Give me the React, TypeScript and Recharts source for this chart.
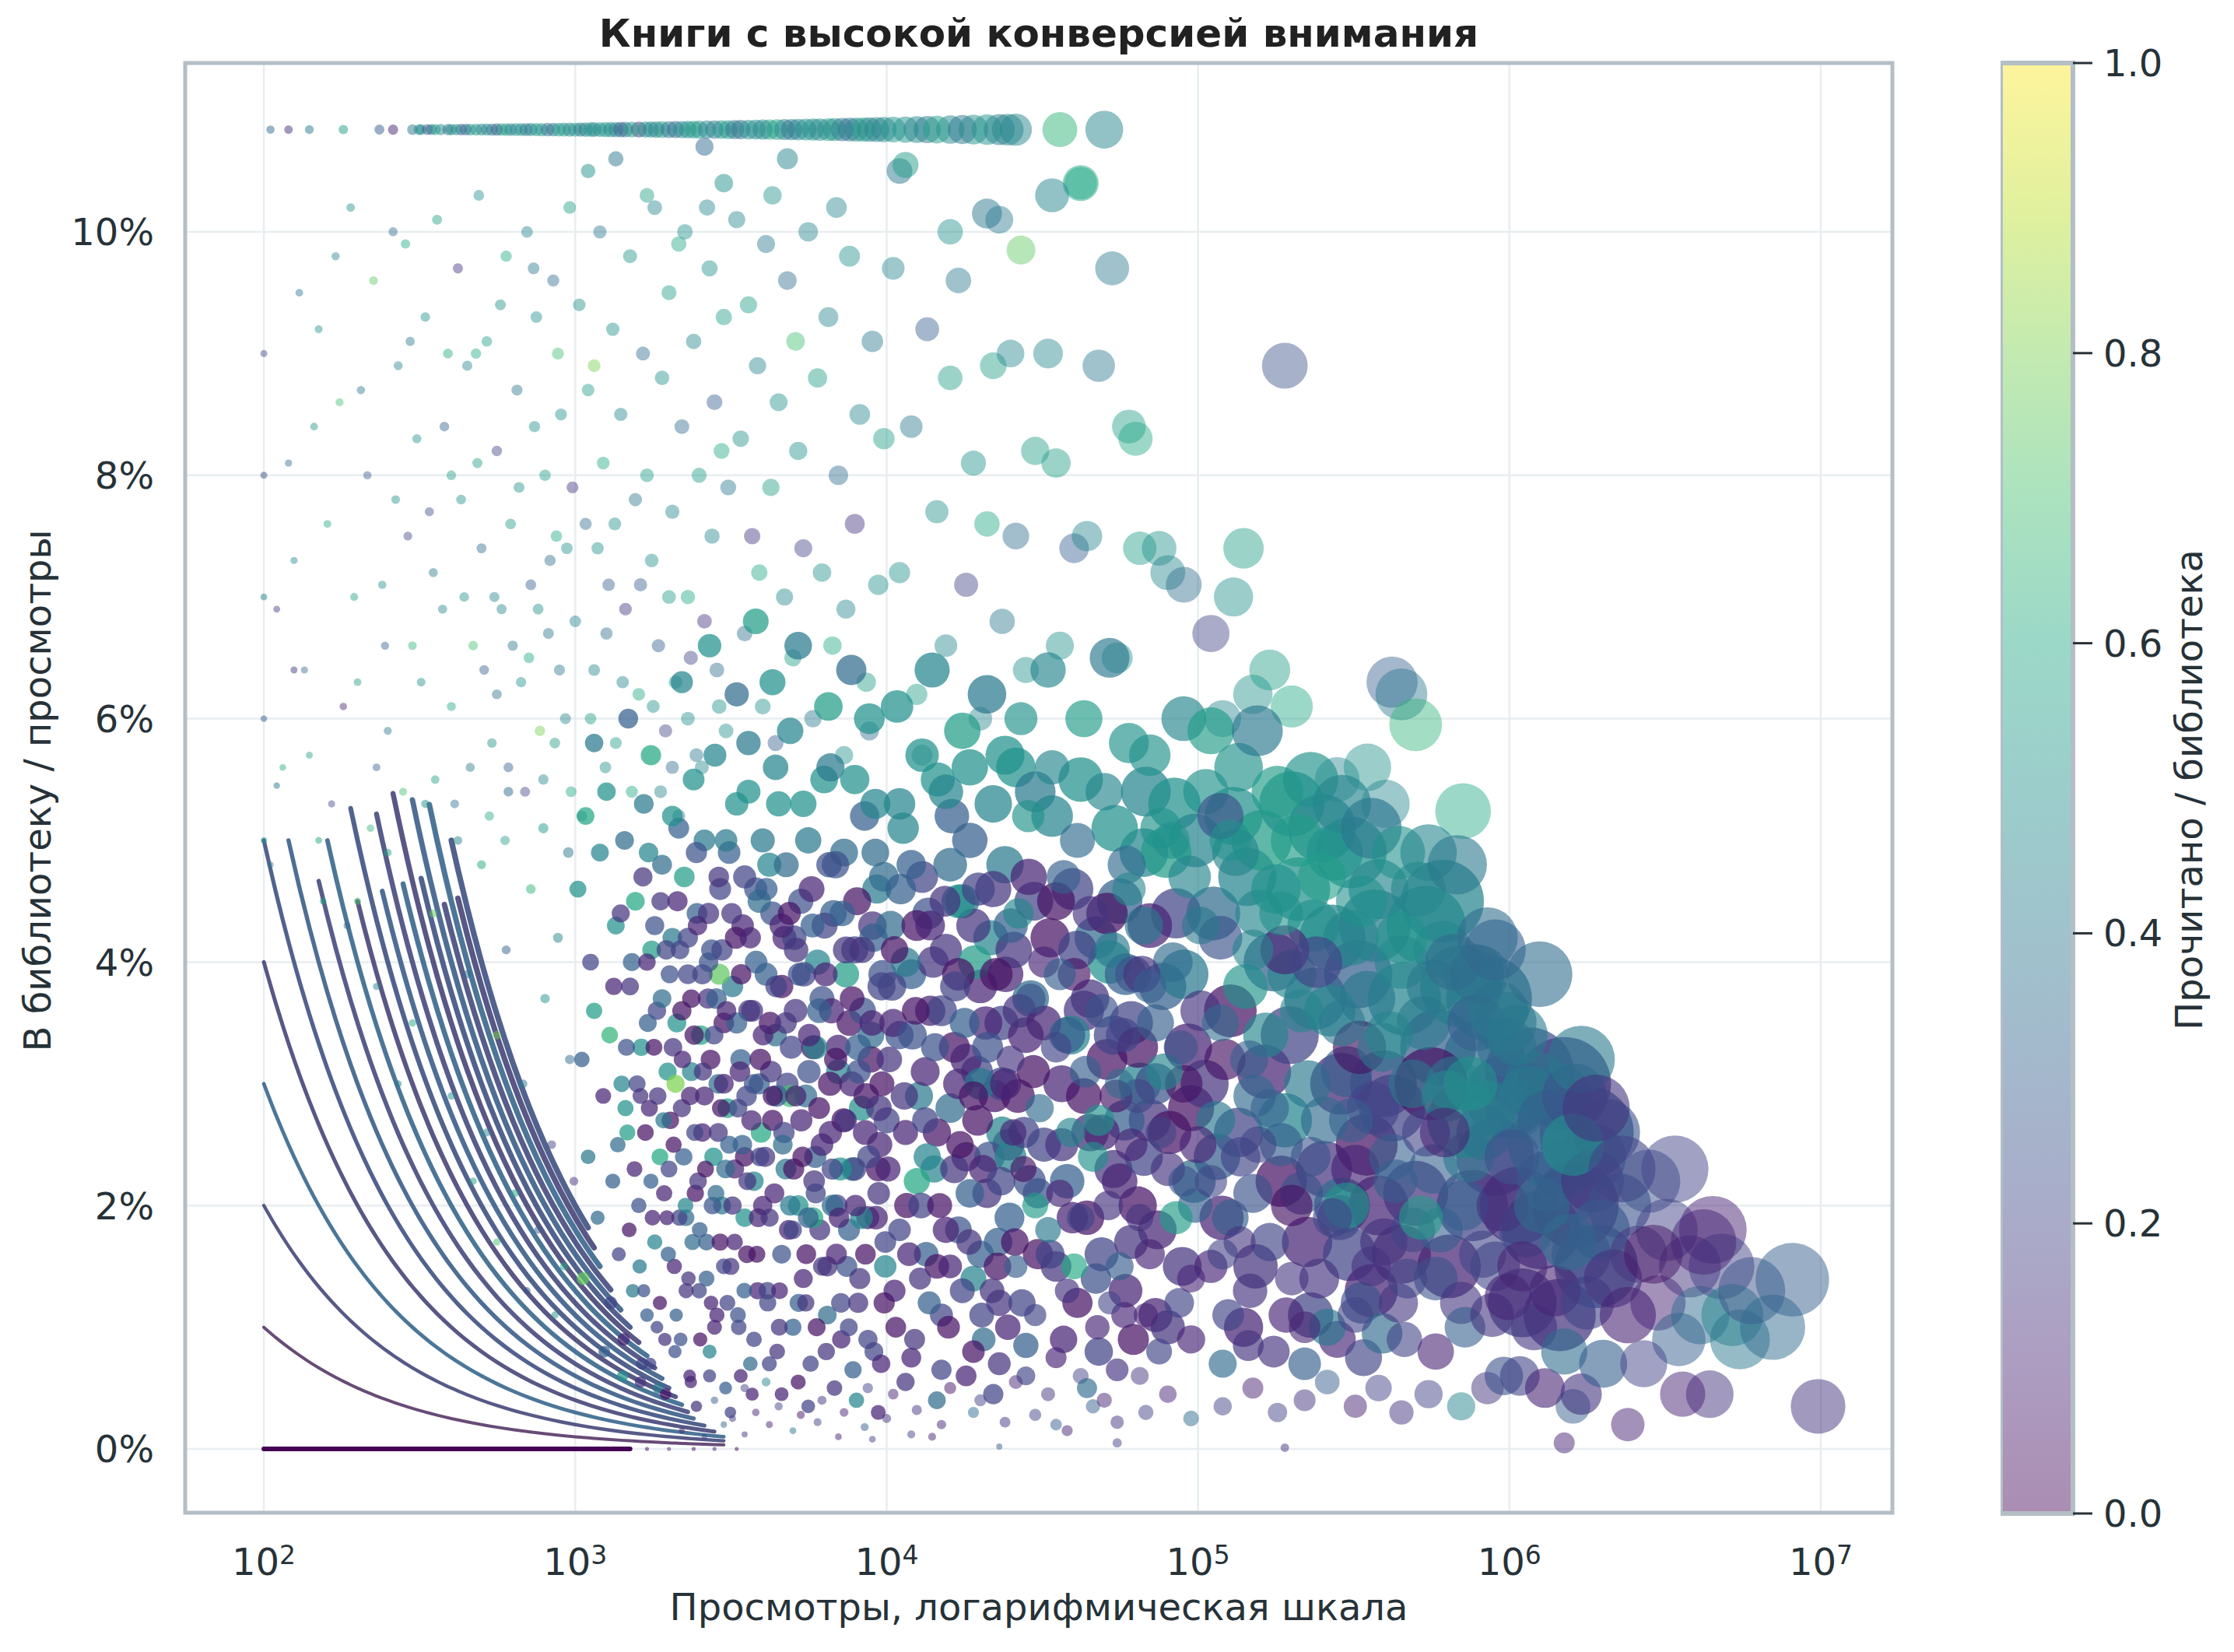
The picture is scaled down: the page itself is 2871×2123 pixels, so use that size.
import React from "react"
import { ScatterChart, Scatter, XAxis, YAxis, CartesianGrid, BarChart, Bar } from "recharts"

// [views, in library / views (%), read / library]
type Pt = [number, number, number]

const X_DOMAIN: [number, number] = [55.9, 1.698e7]
const Y_DOMAIN: [number, number] = [-0.524, 11.387]
const X_TICKS = [1e2, 1e3, 1e4, 1e5, 1e6, 1e7]
const Y_TICKS = [0, 2, 4, 6, 8, 10]
const CB_TICKS = [0, 0.2, 0.4, 0.6, 0.8, 1]

// books with a tiny library count: [library count, first views, last views]
const CURVE_SPANS: [number, number, number][] = [
  [0, 100, 1500], [1, 100, 3000], [2, 100, 3000], [3, 100, 3000], [4, 100, 2800],
  [5, 100, 2600], [6, 120, 2400], [7, 150, 2300], [8, 160, 2200], [9, 200, 2100],
  [10, 190, 2000], [11, 240, 1900], [12, 230, 1800], [13, 280, 1700], [14, 260, 1600],
  [15, 320, 1500], [16, 300, 1400], [17, 380, 1300], [18, 340, 1200], [19, 420, 1150],
  [20, 400, 1100],
]
const CURVE_VIEWS = [
  100, 110, 120, 130, 140, 150, 160, 170, 180, 190, 200, 210, 220, 230, 240, 250, 260, 270, 280,
  290, 300, 310, 320, 330, 340, 360, 380, 400, 420, 450, 500, 560, 630, 710, 800, 900, 1000, 1100,
  1150, 1200, 1300, 1400, 1500, 1600, 1700, 1800, 1900, 2000, 2100, 2200, 2300, 2400, 2600, 2800, 3000,
]

const TOP_ROW: Pt[] = [
  [105, 10.84, .35], [120, 10.84, .15], [140, 10.84, .4], [180, 10.84, .55], [235, 10.84, .3],
  [260, 10.84, .1], [300, 10.84, .4], [320, 10.84, .5], [345, 10.84, .35], [370, 10.84, .45],
  [400, 10.84, .5], [430, 10.84, .3], [460, 10.84, .55], [500, 10.84, .45], [540, 10.84, .4],
  [580, 10.84, .6], [620, 10.84, .35], [670, 10.84, .5], [720, 10.84, .45], [780, 10.84, .55],
  [850, 10.84, .4], [920, 10.84, .5], [1000, 10.84, .6], [1080, 10.84, .45], [1150, 10.84, .35],
  [1250, 10.84, .55], [1350, 10.84, .5], [1450, 10.84, .4], [1600, 10.84, .15], [1750, 10.84, .45],
  [1900, 10.84, .55], [2100, 10.84, .3], [2300, 10.84, .45], [2500, 10.84, .5], [2800, 10.84, .4],
  [3100, 10.84, .55], [3400, 10.84, .35], [3800, 10.84, .45], [4200, 10.84, .6], [4700, 10.84, .4],
  [5200, 10.84, .45], [5800, 10.84, .5], [6500, 10.84, .55], [7200, 10.84, .35], [8000, 10.84, .45],
  [8800, 10.84, .4], [9800, 10.84, .45], [1.15e4, 10.84, .5], [1.35e4, 10.84, .4], [1.6e4, 10.84, .45],
  [1.9e4, 10.84, .5], [2.3e4, 10.84, .4], [2.6e4, 10.84, .45], [3.6e4, 10.84, .65], [5e4, 10.84, .45],
  [315, 10.84, .45], [335, 10.84, .3], [355, 10.84, .55], [390, 10.84, .4], [415, 10.84, .5],
  [445, 10.84, .35], [480, 10.84, .5], [520, 10.84, .45], [560, 10.84, .3], [600, 10.84, .55],
  [645, 10.84, .5], [695, 10.84, .4], [750, 10.84, .5], [815, 10.84, .35], [885, 10.84, .55],
  [960, 10.84, .45], [1040, 10.84, .4], [1120, 10.84, .55], [1200, 10.84, .5], [1300, 10.84, .45],
  [1400, 10.84, .3], [1520, 10.84, .55], [1680, 10.84, .5], [1820, 10.84, .45], [2000, 10.84, .4],
  [2200, 10.84, .5], [2400, 10.84, .55], [2650, 10.84, .45], [2950, 10.84, .5], [3250, 10.84, .4],
  [3600, 10.84, .5], [4000, 10.84, .45], [4450, 10.84, .55], [4950, 10.84, .4], [5500, 10.84, .5],
  [6100, 10.84, .45], [6800, 10.84, .5], [7600, 10.84, .4], [8400, 10.84, .55], [9300, 10.84, .45],
  [1.05e4, 10.84, .5], [1.25e4, 10.84, .45], [1.45e4, 10.84, .55], [1.75e4, 10.84, .4],
  [2.1e4, 10.84, .5], [2.45e4, 10.84, .45],
  [1100, 10.5, .5], [1350, 10.6, .4], [2600, 10.7, .35], [3000, 10.4, .5], [4800, 10.6, .45],
  [1.1e4, 10.5, .4], [1.15e4, 10.55, .55], [4.2e4, 10.4, .6], [3.4e4, 10.3, .45], [2.1e4, 10.15, .4],
]

const UPPER: Pt[] = [
  [100, 9.0, .2], [120, 8.1, .35], [110, 6.9, .15], [130, 9.5, .4], [150, 9.2, .5], [160, 7.6, .6],
  [175, 8.6, .7], [190, 10.2, .5], [200, 6.3, .55], [215, 8.0, .3], [225, 9.6, .75], [240, 7.1, .5],
  [250, 5.9, .4], [270, 8.9, .45], [285, 9.9, .6], [290, 7.5, .2], [300, 6.6, .65], [310, 8.3, .5],
  [140, 5.7, .55], [180, 6.1, .1], [230, 5.6, .3], [125, 7.3, .45], [260, 10.0, .35],
  [330, 9.3, .5], [350, 7.2, .4], [360, 10.1, .55], [380, 8.4, .3], [400, 6.1, .6], [420, 9.7, .15],
  [430, 7.8, .5], [450, 8.9, .45], [470, 6.6, .7], [490, 10.3, .5], [500, 7.4, .35], [520, 9.1, .55],
  [540, 5.8, .5], [560, 8.2, .2], [580, 6.9, .45], [600, 9.8, .6], [620, 7.6, .55], [650, 8.7, .4],
  [670, 6.3, .5], [700, 10.0, .45], [720, 7.1, .3], [750, 9.3, .5], [770, 5.9, .8], [800, 8.0, .55],
  [820, 6.7, .4], [850, 9.6, .35], [870, 7.5, .6], [900, 8.5, .5], [930, 6.0, .45], [960, 10.2, .55],
  [980, 7.9, .15], [400, 8.0, .55], [480, 9.0, .6], [560, 6.2, .35], [740, 8.4, .5], [610, 5.6, .3],
  [880, 9.0, .7],
  [105, 4.8, .4], [115, 5.6, .6], [135, 6.4, .35], [145, 8.4, .5], [165, 5.3, .2], [170, 9.8, .45],
  [195, 7.0, .55], [205, 8.7, .4], [220, 5.1, .65], [245, 6.6, .3], [265, 7.8, .5], [280, 5.4, .7],
  [295, 9.1, .4], [320, 6.3, .5], [340, 7.7, .25], [355, 5.5, .55], [375, 6.9, .45], [390, 9.0, .6],
  [410, 5.3, .35], [440, 7.0, .5], [460, 5.6, .4], [485, 8.1, .55], [510, 6.4, .3], [530, 5.2, .6],
  [550, 7.0, .45], [575, 9.4, .5], [595, 5.0, .55], [630, 6.6, .4], [660, 7.9, .5], [690, 5.4, .2],
  [710, 6.5, .6], [735, 9.7, .4], [760, 6.9, .5], [790, 5.5, .45], [830, 7.3, .35], [860, 5.8, .55],
  [890, 6.4, .4], [940, 7.4, .5], [970, 5.4, .6], [1000, 6.8, .45], [1050, 5.2, .4], [1120, 6.0, .55],
  [1180, 7.4, .5], [1260, 6.7, .35], [1340, 7.6, .5], [1420, 6.3, .45], [1520, 5.4, .6], [1620, 7.1, .3],
  [1780, 6.1, .5], [1880, 5.4, .45], [2000, 7.0, .55], [2150, 5.2, .4], [2300, 6.0, .5], [2550, 5.6, .45],
  [2850, 6.4, .35], [3050, 5.9, .5],
  [1030, 9.4, .5], [1080, 7.6, .35], [1100, 8.7, .55], [1150, 6.4, .45], [1200, 10.0, .4],
  [1230, 8.1, .6], [1280, 7.1, .3], [1320, 9.2, .5], [1350, 5.8, .55], [1400, 8.5, .45],
  [1450, 6.9, .15], [1500, 9.8, .5], [1560, 7.8, .4], [1600, 6.2, .6], [1650, 9.0, .35],
  [1700, 8.0, .55], [1760, 7.3, .5], [1800, 10.2, .45], [1850, 6.6, .3], [1900, 8.8, .5],
  [1950, 5.9, .2], [2000, 9.5, .55], [2050, 7.7, .45], [2100, 6.3, .5], [2200, 8.4, .35],
  [2250, 10.0, .5], [2300, 7.0, .6], [2400, 9.1, .45], [2450, 5.7, .4], [2500, 8.0, .55],
  [2600, 6.8, .15], [2700, 9.7, .5], [2750, 7.5, .45], [2800, 8.6, .3], [2900, 6.1, .5],
  [3000, 9.3, .55], [3100, 7.9, .4], [1250, 5.6, .5], [1700, 10.3, .55], [2150, 9.9, .6],
  [2350, 6.5, .2], [2650, 10.2, .45], [1150, 8.9, .8], [2050, 5.6, .35], [2950, 8.2, .6],
  [3300, 10.1, .45], [3400, 8.3, .5], [3500, 6.7, .35], [3600, 9.4, .55], [3700, 7.5, .15],
  [3850, 8.9, .45], [4000, 6.1, .5], [4100, 9.9, .4], [4250, 7.9, .55], [4400, 5.8, .3],
  [4500, 8.6, .5], [4700, 7.0, .45], [4800, 9.6, .35], [5000, 6.5, .55], [5200, 8.2, .5],
  [5400, 7.4, .2], [5600, 10.0, .45], [5800, 6.0, .4], [6000, 8.8, .55], [6200, 7.2, .5],
  [6500, 9.3, .45], [6700, 6.6, .6], [7000, 8.0, .35], [7300, 5.7, .5], [7600, 9.8, .5],
  [7900, 7.6, .15], [8200, 8.5, .45], [8600, 6.3, .55], [9000, 9.1, .4], [9400, 7.1, .5],
  [9800, 8.3, .55], [3900, 7.2, .6], [5100, 9.1, .7], [6900, 10.2, .45], [8800, 5.9, .35],
  [4300, 10.3, .5], [7400, 6.9, .45],
  [1.05e4, 9.7, .45], [1.1e4, 7.2, .5], [1.2e4, 8.4, .4], [1.25e4, 6.2, .55], [1.35e4, 9.2, .3],
  [1.45e4, 7.7, .5], [1.55e4, 6.6, .45], [1.6e4, 8.8, .55], [1.7e4, 9.6, .4], [1.8e4, 7.1, .2],
  [1.9e4, 8.1, .5], [2e4, 6.0, .45], [2.1e4, 7.6, .6], [2.2e4, 8.9, .55], [2.35e4, 6.8, .4],
  [2.5e4, 9.0, .45], [2.6e4, 7.5, .35], [2.8e4, 6.4, .5], [3e4, 8.2, .55], [1.3e4, 5.7, .45],
  [2.3e4, 10.1, .4], [1.6e4, 10.0, .5], [2.7e4, 9.85, .75],
  [3.3e4, 9.0, .45], [3.5e4, 8.1, .55], [3.6e4, 6.6, .5], [4e4, 7.4, .3], [4.2e4, 10.4, .6],
  [4.4e4, 7.5, .45], [4.8e4, 8.9, .4], [5.3e4, 9.7, .4], [5.5e4, 6.5, .5], [6e4, 8.4, .55],
  [6.3e4, 8.3, .6], [6.5e4, 7.4, .55], [7.5e4, 7.4, .5], [8e4, 7.2, .45], [9e4, 7.1, .35],
  [1.1e5, 6.7, .2], [1.4e5, 7.4, .55], [1.3e5, 7.0, .5], [1.9e5, 8.9, .25], [1.5e5, 6.2, .5],
  [1.2e5, 6.0, .45], [2e5, 6.1, .6], [1.7e5, 6.4, .55], [2.8e5, 5.5, .45], [4.2e5, 6.3, .3],
  [4.5e5, 6.2, .4], [5e5, 5.95, .65], [3.5e5, 5.6, .5], [4e5, 5.3, .45], [7.1e5, 5.24, .6],
]

const LEFT_DOTS: Pt[] = [
  [300, 3.5, .6], [350, 4.4, .75], [400, 2.9, .5], [450, 3.9, .35], [500, 4.8, .6], [520, 2.6, .45],
  [560, 3.4, .8], [600, 4.1, .3], [640, 2.1, .55], [680, 3.0, .4], [720, 4.6, .65], [760, 1.8, .3],
  [800, 3.7, .5], [840, 2.5, .2], [880, 4.2, .45], [920, 1.5, .6], [960, 3.2, .35], [250, 4.9, .55],
  [270, 3.0, .4], [200, 4.5, .7], [330, 5.3, .5], [420, 5.0, .45], [610, 5.4, .35], [790, 5.1, .55],
  [950, 4.9, .4], [700, 1.3, .25], [860, 1.1, .5], [990, 2.2, .15], [560, 1.7, .7], [470, 2.2, .55],
  [150, 5.0, .6], [230, 3.8, .45], [100, 6.0, .3], [100, 7.0, .45], [100, 8.0, .25], [100, 5.0, .5],
  [110, 5.45, .4], [125, 6.4, .2], [155, 4.5, .55], [185, 4.3, .35],
]

const LOW_BAND: Pt[] = [
  [1700, 0, 0], [2000, 0, .1], [2400, 0, 0], [2800, 0, .05], [3300, 0, 0],
  [2200, 0.15, .1], [2600, 0.1, .2], [3000, 0.2, .35], [3500, 0.12, .15], [4200, 0.2, .1],
  [5000, 0.15, .4], [6000, 0.22, .2], [7000, 0.1, .1], [8500, 0.18, .3], [1e4, 0.25, .15],
  [1.2e4, 0.12, .2], [1.5e4, 0.2, .1], [1.9e4, 0.3, .35], [2.4e4, 0.22, .15], [3e4, 0.28, .2],
  [3.8e4, 0.15, .1], [4.6e4, 0.35, .3], [5.5e4, 0.22, .15], [6.8e4, 0.3, .2], [8e4, 0.45, .1],
  [9.5e4, 0.25, .35], [1.2e5, 0.35, .2], [1.5e5, 0.5, .1], [1.8e5, 0.3, .2], [2.2e5, 0.4, .15],
  [2.6e5, 0.55, .3], [3.2e5, 0.35, .1], [3.8e5, 0.5, .2], [4.5e5, 0.3, .15], [5.5e5, 0.45, .2],
  [7e5, 0.35, .45], [8.5e5, 0.5, .15], [1.5e6, 0.05, .1], [1.6e6, 0.35, .3], [2.4e6, 0.2, .1],
  [5.5e4, 0.05, .2], [2.3e4, 0.02, .3], [1.9e5, 0.01, .15],
  [3200, 0.25, .15], [3800, 0.3, .1], [4500, 0.35, .2], [5300, 0.28, .05], [6200, 0.4, .15],
  [7300, 0.3, .1], [8700, 0.5, .2], [1.05e4, 0.45, .1], [1.25e4, 0.32, .15], [1.6e4, 0.5, .05],
  [2e4, 0.4, .2], [2.6e4, 0.55, .1], [3.3e4, 0.45, .15], [4.2e4, 0.6, .2], [5e4, 0.4, .1],
  [6.5e4, 0.6, .15], [2800, 0.4, .3], [3500, 0.5, .2], [4100, 0.55, .45], [1.4e4, 0.1, .1],
  [9e3, 0.08, .2], [3.5e4, 0.2, .3],
]

const CORE_LEFT: Pt[] = [
  [1020, 4.6, .5], [1050, 3.2, .3], [1080, 5.2, .6], [1100, 2.4, .4], [1120, 4.0, .2], [1150, 3.6, .55],
  [1180, 1.9, .35], [1200, 4.9, .45], [1230, 2.9, .1], [1260, 5.4, .5], [1290, 3.4, .65], [1320, 2.2, .3],
  [1350, 4.3, .5], [1380, 1.6, .2], [1410, 3.0, .45], [1440, 5.0, .35], [1470, 2.6, .55], [1500, 3.8, .15],
  [1530, 1.3, .4], [1560, 4.5, .6], [1600, 2.0, .25], [1630, 3.3, .5], [1660, 5.3, .4], [1700, 1.1, .3],
  [1730, 2.8, .1], [1760, 4.1, .55], [1800, 1.7, .45], [1830, 3.6, .2], [1870, 2.4, .6], [1900, 4.8, .35],
  [1940, 0.9, .15], [1980, 3.1, .5], [1060, 1.4, .75], [1240, 0.8, .3], [1420, 0.6, .5], [1640, 0.7, .2],
  [1850, 0.5, .4], [1150, 5.8, .4], [1480, 6.0, .3], [1750, 5.7, .6],
  [2000, 2.3, .2], [2050, 4.2, .4], [2080, 1.5, .1], [2120, 3.5, .5], [2150, 5.1, .3], [2180, 0.9, .25],
  [2200, 2.8, .15], [2240, 4.7, .55], [2270, 1.9, .35], [2300, 3.9, .2], [2330, 0.6, .1], [2360, 3.1, .45],
  [2400, 5.5, .5], [2430, 2.1, .05], [2460, 4.4, .3], [2500, 1.3, .2], [2530, 3.4, .6], [2560, 2.6, .1],
  [2600, 5.0, .4], [2640, 1.7, .3], [2670, 3.7, .15], [2700, 0.8, .45], [2740, 4.1, .25], [2780, 2.4, .5],
  [2810, 5.7, .45], [2850, 1.1, .1], [2880, 3.0, .35], [2920, 4.6, .2], [2960, 2.0, .4], [3000, 3.5, .05],
  [3040, 0.5, .3], [3080, 2.8, .55], [3120, 4.9, .3], [3160, 1.5, .15], [3200, 3.8, .4], [3250, 2.3, .1],
  [3300, 5.3, .5], [3350, 1.0, .2], [3400, 3.2, .3], [3450, 4.3, .1], [3500, 1.9, .5], [3550, 2.9, .2],
  [3600, 5.8, .4], [3650, 0.7, .35], [3700, 3.6, .15], [3750, 2.2, .45], [3800, 4.6, .25], [3850, 1.3, .1],
  [3900, 3.0, .3], [3950, 2.6, .6], [2200, 6.3, .45], [2700, 6.6, .5], [3300, 6.2, .35], [3800, 6.8, .55],
  [2450, 0.35, .15], [3150, 0.3, .2], [3700, 0.45, .1], [2100, 3.0, .8], [2900, 3.9, .75], [3500, 2.4, .05],
  [4000, 2.0, .1], [4100, 3.9, .3], [4150, 1.2, .2], [4200, 4.8, .45], [4300, 2.7, .05], [4400, 3.4, .35],
  [4450, 0.8, .15], [4500, 5.3, .5], [4600, 1.6, .25], [4700, 4.2, .1], [4750, 2.3, .4], [4800, 3.0, .2],
  [4900, 5.9, .45], [5000, 1.0, .3], [5100, 3.6, .15], [5200, 2.0, .5], [5300, 4.5, .25], [5400, 1.4, .1],
  [5500, 2.9, .35], [5600, 5.0, .4], [5700, 0.7, .2], [5800, 3.3, .05], [5900, 2.4, .3], [6000, 4.0, .45],
  [6100, 1.8, .15], [6200, 3.7, .25], [6300, 5.5, .5], [6450, 1.1, .35], [6600, 2.6, .1], [6750, 4.4, .3],
  [6900, 2.0, .2], [7000, 3.1, .45], [7150, 0.9, .1], [7300, 4.9, .35], [7450, 1.5, .25], [7600, 3.5, .05],
  [7750, 2.3, .4], [7900, 4.1, .2], [8100, 1.2, .15], [8300, 2.8, .5], [8500, 5.2, .3], [8700, 1.9, .1],
  [8900, 3.4, .35], [9100, 0.8, .2], [9300, 4.6, .4], [9500, 2.5, .1], [9700, 3.9, .25], [9900, 1.5, .45],
  [4300, 6.3, .5], [5200, 6.6, .4], [6500, 6.1, .55], [7700, 6.4, .35], [8800, 6.0, .5], [4600, 0.45, .1],
  [5600, 0.35, .2], [6800, 0.5, .15], [8000, 0.4, .45], [9400, 0.3, .1], [4900, 2.9, .7], [5800, 1.9, .6],
  [7400, 3.9, .55], [8600, 2.9, .05], [4250, 3.1, .15], [5050, 4.2, .2], [6650, 3.6, .1], [9000, 4.3, .15],
  [1.0e4, 2.7, .2], [1.03e4, 4.3, .35], [1.06e4, 1.3, .1], [1.1e4, 3.4, .25], [1.13e4, 5.1, .45],
  [1.16e4, 2.0, .05], [1.2e4, 3.9, .3], [1.23e4, 0.9, .15], [1.27e4, 2.9, .4], [1.3e4, 4.7, .2],
  [1.34e4, 1.6, .3], [1.38e4, 3.6, .1], [1.42e4, 2.3, .45], [1.46e4, 5.5, .5], [1.5e4, 1.1, .2],
  [1.55e4, 4.1, .15], [1.6e4, 2.8, .35], [1.65e4, 3.3, .05], [1.7e4, 1.8, .25], [1.75e4, 4.5, .4],
  [1.8e4, 2.4, .1], [1.85e4, 5.0, .3], [1.9e4, 1.4, .45], [1.95e4, 3.1, .2], [2e4, 3.8, .1],
  [2.05e4, 0.9, .35], [2.1e4, 2.1, .15], [2.16e4, 4.2, .45], [2.22e4, 2.9, .05], [2.28e4, 1.7, .3],
  [2.34e4, 3.5, .2], [2.4e4, 4.8, .4], [2.46e4, 2.5, .1], [1.08e4, 6.1, .5], [1.4e4, 6.4, .45],
  [1.75e4, 5.9, .55], [2.1e4, 6.2, .4], [2.4e4, 5.7, .5], [1.15e4, 0.55, .15], [1.45e4, 0.4, .35],
  [1.8e4, 0.6, .1], [2.2e4, 0.45, .2], [1.25e4, 2.2, .6], [1.58e4, 1.0, .05], [1.92e4, 4.0, .55],
  [2.3e4, 1.2, .15], [1.05e4, 3.5, .1], [1.36e4, 4.4, .25], [1.7e4, 3.0, .1], [2.0e4, 1.6, .3],
  [2.35e4, 2.6, .45], [1.62e4, 5.2, .3],
]

const CORE_FILL: Pt[] = [
  [1300, 1.2, .2], [1330, 3.8, .1], [1370, 2.5, .35], [1400, 4.4, .15], [1430, 0.9, .1], [1460, 3.3, .25],
  [1490, 1.8, .05], [1520, 4.0, .3], [1550, 2.3, .1], [1580, 3.0, .2], [1610, 1.5, .4], [1650, 4.7, .15],
  [1680, 2.6, .05], [1710, 3.5, .3], [1740, 0.7, .2], [1770, 1.9, .1], [1800, 4.3, .25], [1840, 2.9, .15],
  [1870, 1.2, .05], [1900, 3.7, .35], [1930, 2.1, .1], [1960, 4.1, .2], [1990, 1.6, .3], [2020, 2.7, .05],
  [2060, 3.3, .15], [2090, 0.8, .25], [2130, 4.5, .1], [2160, 1.9, .2], [2200, 3.6, .05], [2230, 2.4, .3],
  [2270, 1.3, .15], [2300, 4.2, .2], [2340, 2.9, .1], [2380, 1.7, .35], [2410, 3.4, .05], [2450, 4.9, .25],
  [2480, 2.2, .15], [2520, 0.9, .05], [2560, 3.9, .2], [2600, 2.9, .1], [2640, 1.4, .3], [2680, 4.4, .15],
  [2720, 3.2, .05], [2760, 2.0, .25], [2800, 1.0, .1], [2840, 3.7, .3], [2880, 2.6, .15], [2920, 1.7, .05],
  [2960, 4.1, .2], [3000, 3.0, .1], [3040, 2.3, .35], [3080, 1.2, .2], [1450, 2.8, .5], [1720, 4.9, .45],
  [2050, 5.2, .5], [2350, 0.55, .1], [2700, 0.6, .2], [3050, 5.0, .4], [1620, 0.55, .15], [1950, 0.45, .05],
  [3200, 2.0, .15], [3280, 4.2, .05], [3330, 1.1, .25], [3380, 3.1, .1], [3440, 2.5, .3], [3500, 4.7, .2],
  [3560, 1.6, .05], [3620, 3.6, .15], [3680, 2.7, .1], [3750, 0.9, .2], [3810, 4.0, .3], [3870, 1.9, .1],
  [3930, 3.2, .05], [4000, 5.0, .4], [4070, 2.4, .15], [4140, 1.3, .2], [4220, 3.5, .05], [4290, 4.4, .25],
  [4360, 2.1, .1], [4440, 2.9, .3], [4520, 1.0, .15], [4600, 3.8, .05], [4680, 2.6, .2], [4760, 4.8, .35],
  [4850, 1.8, .1], [4940, 3.3, .2], [5030, 2.3, .05], [5120, 4.1, .15], [5220, 1.2, .3], [5320, 2.7, .1],
  [5420, 3.9, .2], [5520, 1.6, .05], [5630, 3.1, .25], [5740, 4.6, .1], [5850, 2.2, .15], [5960, 1.0, .05],
  [6080, 3.6, .3], [6200, 2.5, .1], [6320, 4.3, .2], [6450, 1.5, .15], [6580, 3.0, .05], [6710, 2.0, .35],
  [6850, 4.8, .25], [6990, 3.3, .1], [7130, 1.2, .2], [7270, 2.7, .05], [7420, 4.1, .15], [7570, 1.8, .3],
  [7720, 3.0, .1], [7880, 2.3, .2], [8040, 4.5, .05], [8200, 1.4, .15], [8370, 3.6, .25], [8540, 2.6, .1],
  [8710, 0.9, .2], [8890, 3.2, .05], [9070, 4.2, .3], [9250, 1.9, .1], [9440, 2.8, .15], [9630, 3.8, .2],
  [9820, 1.2, .05], [3600, 5.4, .5], [4400, 5.6, .45], [5400, 5.3, .5], [6600, 5.6, .4], [7900, 5.5, .5],
  [9200, 5.3, .45], [3400, 0.6, .1], [4200, 0.7, .2], [5200, 0.55, .05], [6400, 0.8, .15], [7800, 0.65, .3],
  [9600, 0.7, .1], [3900, 4.5, .35], [4900, 2.0, .4], [5900, 3.3, .45], [7100, 2.3, .5], [8300, 1.9, .45],
  [9800, 4.7, .35], [3300, 3.5, .3], [4600, 4.3, .1], [5600, 1.9, .3], [6900, 1.6, .1], [8100, 3.3, .3],
  [9400, 2.3, .05],
  [1.01e4, 2.3, .1], [1.04e4, 3.8, .2], [1.07e4, 1.0, .05], [1.11e4, 4.6, .3], [1.14e4, 2.9, .15],
  [1.18e4, 1.6, .1], [1.21e4, 3.4, .25], [1.25e4, 4.3, .05], [1.29e4, 2.0, .2], [1.33e4, 3.1, .1],
  [1.37e4, 1.2, .3], [1.41e4, 4.0, .15], [1.45e4, 2.6, .05], [1.5e4, 3.6, .2], [1.55e4, 1.8, .1],
  [1.6e4, 4.8, .35], [1.65e4, 2.3, .15], [1.7e4, 3.9, .05], [1.75e4, 1.3, .2], [1.8e4, 3.2, .1],
  [1.85e4, 2.1, .3], [1.9e4, 4.3, .15], [1.96e4, 2.7, .05], [2.02e4, 1.1, .2], [2.08e4, 3.5, .1],
  [2.14e4, 2.4, .25], [2.2e4, 4.6, .15], [2.27e4, 1.5, .05], [2.34e4, 3.0, .2], [2.41e4, 3.9, .1],
  [2.48e4, 1.9, .3], [2.56e4, 4.1, .15], [2.64e4, 2.9, .05], [2.72e4, 1.2, .2], [2.8e4, 3.4, .1],
  [2.88e4, 2.2, .25], [2.97e4, 4.5, .2], [3.06e4, 1.6, .05], [1.1e4, 5.3, .45], [1.3e4, 5.7, .5],
  [1.55e4, 5.4, .45], [1.85e4, 5.6, .5], [2.2e4, 5.3, .45], [2.6e4, 5.6, .5], [3e4, 5.4, .4],
  [1.2e4, 0.75, .1], [1.5e4, 0.65, .2], [1.9e4, 0.8, .05], [2.3e4, 0.7, .15], [2.8e4, 0.85, .3],
  [1.35e4, 2.4, .45], [1.7e4, 4.5, .5], [2.0e4, 3.0, .4], [2.5e4, 2.4, .45], [2.9e4, 3.7, .35],
  [1.15e4, 4.0, .4], [1.45e4, 1.5, .05], [2.45e4, 1.0, .1],
  [3.2e4, 2.5, .2], [3.35e4, 4.2, .05], [3.5e4, 1.5, .15], [3.65e4, 3.0, .1], [3.8e4, 2.2, .3],
  [3.95e4, 4.6, .2], [4.1e4, 1.2, .05], [4.3e4, 3.6, .15], [4.5e4, 2.6, .1], [4.7e4, 4.2, .35],
  [4.9e4, 1.6, .2], [5.1e4, 3.2, .05], [5.35e4, 2.3, .15], [5.6e4, 4.5, .3], [5.85e4, 1.3, .1],
  [6.1e4, 3.5, .2], [6.4e4, 2.0, .05], [6.7e4, 4.9, .45], [7e4, 2.7, .15], [7.3e4, 1.1, .1],
  [7.7e4, 3.8, .3], [8.1e4, 2.6, .05], [8.5e4, 4.4, .2], [8.9e4, 1.5, .15], [9.3e4, 3.3, .1],
  [9.7e4, 2.2, .35], [3.4e4, 5.2, .45], [4.2e4, 5.5, .5], [5.4e4, 5.1, .5], [6.8e4, 5.4, .45],
  [8.4e4, 5.3, .5], [9.8e4, 5.0, .45], [3.7e4, 0.9, .1], [4.8e4, 0.8, .2], [6.2e4, 0.9, .05],
  [8e4, 1.0, .15], [3.9e4, 3.4, .45], [5.2e4, 4.0, .5], [6.5e4, 3.0, .45], [7.9e4, 4.9, .55],
  [9e4, 3.9, .4], [4.4e4, 1.9, .05], [5.8e4, 2.7, .3], [7.4e4, 1.8, .1], [9.5e4, 2.8, .05],
  [1.05e5, 3.0, .15], [1.12e5, 4.4, .35], [1.19e5, 1.9, .1], [1.27e5, 3.6, .05], [1.35e5, 2.6, .2],
  [1.44e5, 4.7, .45], [1.53e5, 1.5, .15], [1.63e5, 3.1, .1], [1.74e5, 4.0, .3], [1.85e5, 2.2, .05],
  [1.97e5, 3.4, .2], [2.1e5, 4.6, .5], [2.24e5, 1.7, .1], [2.38e5, 3.7, .35], [2.54e5, 2.3, .15],
  [2.7e5, 4.2, .45], [2.88e5, 3.0, .1], [3.07e5, 1.6, .2], [3.27e5, 3.9, .3], [3.48e5, 2.5, .05],
  [3.7e5, 4.3, .4], [3.94e5, 3.0, .15], [1.3e5, 5.2, .5], [1.6e5, 5.0, .55], [2e5, 5.3, .5],
  [2.5e5, 5.1, .45], [3.1e5, 4.9, .5], [1.4e5, 1.0, .1], [2.3e5, 1.1, .2], [3.6e5, 1.3, .1],
  [1.15e5, 2.4, .3], [1.9e5, 2.7, .45], [2.9e5, 2.0, .35], [3.8e5, 2.0, .1],
  [4.2e5, 2.8, .2], [4.6e5, 3.7, .45], [5e5, 2.1, .15], [5.4e5, 4.3, .5], [5.9e5, 3.3, .3],
  [6.4e5, 1.5, .1], [7e5, 3.8, .45], [7.6e5, 2.0, .2], [8.3e5, 3.2, .35], [9e5, 2.4, .15],
  [9.8e5, 2.9, .3], [1.07e6, 2.0, .1], [1.16e6, 3.1, .25], [1.26e6, 1.8, .15], [1.37e6, 2.5, .35],
  [1.5e6, 3.0, .2], [1.63e6, 2.0, .1], [1.77e6, 2.6, .3], [4.5e5, 1.6, .1], [6.1e5, 4.5, .45],
  [8.6e5, 3.7, .4], [1.1e6, 1.2, .2], [1.45e6, 1.1, .15], [1.9e6, 1.5, .25], [7.2e5, 2.7, .5],
  [5.6e5, 3.0, .05],
]

const CORE_DENSE: Pt[] = [
  [1620, 2.9, .15], [1660, 1.3, .25], [1700, 4.0, .1], [1750, 2.2, .3], [1790, 3.3, .05], [1830, 1.0, .2],
  [1880, 4.5, .15], [1920, 2.7, .4], [1970, 1.9, .1], [2010, 3.9, .25], [2070, 2.5, .05], [2110, 1.1, .3],
  [2170, 4.1, .2], [2210, 3.2, .1], [2260, 2.0, .45], [2310, 1.4, .15], [2360, 3.7, .05], [2420, 2.6, .2],
  [2470, 4.3, .1], [2510, 1.8, .3], [2570, 3.1, .15], [2620, 2.3, .05], [2680, 4.0, .25], [2730, 1.2, .1],
  [2790, 3.4, .2], [2830, 2.1, .35], [2890, 4.7, .15], [2940, 2.8, .05], [3000, 1.5, .2], [3060, 3.6, .1],
  [3120, 2.5, .3], [3180, 4.4, .15],
  [3250, 1.7, .1], [3330, 2.8, .2], [3410, 3.9, .05], [3490, 1.3, .3], [3570, 2.2, .15], [3650, 4.2, .1],
  [3740, 3.0, .25], [3830, 1.6, .05], [3920, 2.4, .2], [4010, 3.4, .1], [4110, 4.6, .3], [4210, 1.9, .15],
  [4310, 2.9, .05], [4420, 3.8, .2], [4530, 1.3, .1], [4640, 2.5, .35], [4750, 3.5, .15], [4870, 4.4, .05],
  [4990, 1.8, .2], [5110, 2.9, .1], [5240, 3.9, .25], [5370, 2.4, .05], [5500, 1.2, .15], [5640, 3.4, .1],
  [5780, 4.3, .3], [5920, 2.1, .2], [6070, 2.8, .05], [6220, 1.5, .15], [6370, 3.9, .1], [6530, 4.8, .25],
  [6690, 2.3, .2], [6860, 3.2, .05], [7030, 1.9, .1], [7200, 4.4, .3], [7380, 2.7, .15], [7560, 1.0, .2],
  [7750, 3.7, .05], [7940, 2.0, .1], [8140, 3.1, .25], [8340, 4.1, .15], [8550, 1.6, .05], [8760, 2.4, .2],
  [8980, 3.5, .1], [9200, 4.9, .35], [9430, 2.1, .15], [9660, 3.0, .05], [9900, 1.7, .2],
  [1.02e4, 3.2, .15], [1.06e4, 4.1, .05], [1.1e4, 1.8, .2], [1.15e4, 2.6, .1], [1.2e4, 4.8, .3],
  [1.24e4, 3.6, .05], [1.28e4, 1.4, .15], [1.33e4, 2.7, .2], [1.38e4, 4.3, .1], [1.43e4, 3.3, .25],
  [1.48e4, 2.0, .05], [1.54e4, 4.5, .15], [1.6e4, 1.5, .1], [1.66e4, 3.8, .2], [1.72e4, 2.5, .05],
  [1.78e4, 3.5, .3], [1.84e4, 1.7, .15], [1.9e4, 2.9, .05], [1.97e4, 4.6, .2], [2.04e4, 2.3, .1],
  [2.11e4, 3.3, .25], [2.18e4, 1.3, .15], [2.25e4, 3.9, .05], [2.33e4, 2.2, .2], [2.41e4, 3.0, .1],
  [2.5e4, 4.3, .3], [2.58e4, 1.7, .05], [2.67e4, 3.6, .15], [2.76e4, 2.6, .2], [2.86e4, 4.7, .1],
  [2.96e4, 3.1, .05], [3.06e4, 2.1, .25],
  [3.2e4, 3.5, .1], [3.35e4, 1.6, .2], [3.5e4, 4.5, .05], [3.65e4, 2.5, .15], [3.8e4, 3.4, .3],
  [3.95e4, 1.9, .1], [4.1e4, 4.1, .2], [4.3e4, 2.9, .05], [4.5e4, 3.7, .15], [4.7e4, 1.4, .25],
  [4.9e4, 2.6, .1], [5.1e4, 4.4, .05], [5.35e4, 3.4, .2], [5.6e4, 2.2, .1], [5.85e4, 3.9, .3],
  [6.1e4, 1.7, .15], [6.4e4, 3.3, .05], [6.7e4, 2.4, .2], [7e4, 4.3, .1], [7.3e4, 3.0, .25],
]

const CORE_MID: Pt[] = [
  [2.5e4, 3.2, .15], [2.6e4, 1.5, .3], [2.65e4, 4.4, .45], [2.75e4, 2.3, .05], [2.85e4, 5.2, .5],
  [2.9e4, 3.7, .25], [3e4, 1.1, .2], [3.1e4, 2.8, .35], [3.2e4, 4.0, .1], [3.3e4, 1.8, .4],
  [3.4e4, 5.6, .45], [3.5e4, 3.3, .2], [3.6e4, 2.1, .1], [3.7e4, 4.7, .3], [3.8e4, 1.3, .15],
  [3.9e4, 2.6, .45], [4e4, 3.9, .05], [4.1e4, 5.0, .35], [4.2e4, 1.9, .2], [4.35e4, 3.1, .3],
  [4.5e4, 4.4, .15], [4.6e4, 2.4, .5], [4.75e4, 1.0, .1], [4.9e4, 3.6, .25], [5e4, 5.4, .45],
  [5.15e4, 2.0, .15], [5.3e4, 4.1, .4], [5.45e4, 2.9, .05], [5.6e4, 1.5, .3], [5.75e4, 3.4, .2],
  [5.9e4, 4.8, .35], [6.1e4, 2.5, .1], [2.7e4, 6.0, .5], [3.3e4, 6.4, .45], [4.3e4, 6.0, .55],
  [5.2e4, 6.5, .4], [6e4, 5.8, .5], [2.8e4, 0.6, .2], [3.5e4, 0.75, .1], [4.4e4, 0.5, .35],
  [5.5e4, 0.65, .15], [3.0e4, 2.0, .55], [4.0e4, 1.5, .6], [4.8e4, 2.7, .5], [3.6e4, 3.9, .3],
  [5.8e4, 1.1, .1], [6.2e4, 3.9, .25], [2.55e4, 2.6, .1],
  [6.4e4, 2.9, .2], [6.7e4, 4.3, .4], [7e4, 1.6, .1], [7.3e4, 3.5, .3], [7.6e4, 5.1, .5],
  [8e4, 2.3, .15], [8.3e4, 4.0, .35], [8.7e4, 1.2, .2], [9e4, 3.0, .05], [9.4e4, 4.7, .45],
  [9.8e4, 2.0, .3], [1.02e5, 3.6, .15], [1.06e5, 5.4, .5], [1.1e5, 1.5, .1], [1.14e5, 2.7, .4],
  [1.18e5, 4.2, .25], [1.22e5, 3.2, .05], [1.27e5, 1.9, .3], [1.32e5, 4.9, .45], [1.37e5, 2.4, .2],
  [1.42e5, 3.8, .5], [1.47e5, 1.3, .15], [1.52e5, 2.9, .35], [1.57e5, 4.4, .45], [7e4, 5.7, .5],
  [9e4, 6.0, .45], [1.1e5, 5.9, .55], [1.35e5, 5.6, .5], [1.55e5, 5.9, .4], [7.5e4, 0.8, .2],
  [9.5e4, 0.9, .1], [1.2e5, 0.7, .35], [1.45e5, 0.85, .15], [8.5e4, 1.9, .55], [1.0e5, 2.5, .1],
  [1.25e5, 1.1, .2], [6.6e4, 3.9, .15], [1.5e5, 2.1, .25], [1.18e5, 5.2, .25], [7.8e4, 3.1, .45],
  [1.65e5, 3.4, .45], [1.7e5, 1.7, .2], [1.78e5, 4.6, .5], [1.85e5, 2.5, .3], [1.92e5, 1.1, .1],
  [2e5, 3.9, .45], [2.08e5, 5.0, .55], [2.15e5, 2.1, .25], [2.25e5, 3.0, .4], [2.35e5, 4.3, .5],
  [2.45e5, 1.4, .15], [2.55e5, 2.7, .35], [2.65e5, 3.6, .45], [2.75e5, 4.9, .5], [2.85e5, 1.9, .2],
  [3e5, 3.1, .3], [3.1e5, 4.2, .45], [3.2e5, 2.3, .1], [3.35e5, 1.2, .25], [3.5e5, 3.7, .4],
  [3.65e5, 2.8, .2], [3.8e5, 4.6, .45], [3.95e5, 1.7, .15], [1.8e5, 5.4, .55], [2.3e5, 5.5, .5],
  [2.9e5, 5.3, .45], [3.6e5, 5.1, .4], [1.75e5, 0.8, .15], [2.2e5, 0.7, .3], [2.8e5, 0.9, .1],
  [3.4e5, 0.75, .2], [3.9e5, 0.95, .35], [2.0e5, 2.0, .05], [2.6e5, 1.0, .4], [3.3e5, 3.3, .05],
  [1.9e5, 4.1, .1], [3.0e5, 2.0, .5], [2.4e5, 4.0, .2],
]

const CORE_BIG: Pt[] = [
  [5.2e4, 1.2, .2], [5.6e4, 3.0, .35], [6e4, 4.6, .45], [6.5e4, 1.9, .15], [7e4, 3.8, .3],
  [7.6e4, 2.6, .2], [8.2e4, 5.0, .5], [8.8e4, 3.3, .25], [9.5e4, 1.4, .1], [1.02e5, 4.3, .4],
  [1.1e5, 2.2, .2], [1.18e5, 3.5, .35], [1.27e5, 5.0, .5], [1.36e5, 1.7, .15], [1.46e5, 3.2, .3],
  [1.56e5, 2.5, .2], [6.8e4, 1.1, .1], [9e4, 2.2, .25], [1.2e5, 1.6, .2], [1.5e5, 4.1, .45],
  [1.7e5, 2.8, .3], [1.85e5, 4.4, .5], [2e5, 1.4, .15], [2.15e5, 3.6, .45], [2.3e5, 2.4, .25],
  [2.5e5, 4.7, .55], [2.7e5, 1.9, .2], [2.9e5, 3.5, .4], [3.1e5, 2.7, .3], [3.35e5, 4.5, .5],
  [3.6e5, 1.5, .15], [3.9e5, 3.3, .4], [4.2e5, 2.4, .3], [4.5e5, 4.0, .45], [4.9e5, 1.8, .2],
  [5.3e5, 3.5, .4], [5.7e5, 2.3, .3], [6.1e5, 4.1, .45], [2.2e5, 1.0, .1], [3.2e5, 1.1, .2],
  [4.4e5, 1.2, .15], [5.8e5, 1.4, .25],
  [6.6e5, 3.0, .4], [7.1e5, 2.0, .3], [7.7e5, 3.9, .45], [8.3e5, 2.6, .35], [9e5, 1.5, .2],
  [9.7e5, 3.5, .4], [1.05e6, 2.8, .35], [1.13e6, 1.8, .25], [1.22e6, 3.0, .4], [1.32e6, 2.2, .3],
  [1.43e6, 2.9, .35], [1.55e6, 2.1, .25], [1.7e6, 1.6, .2], [1.85e6, 2.4, .3],
]

const CORE_RIGHT: Pt[] = [
  [4.1e5, 3.4, .45], [4.3e5, 2.2, .3], [4.5e5, 4.2, .5], [4.7e5, 1.4, .2], [4.9e5, 3.0, .4],
  [5.1e5, 4.6, .45], [5.4e5, 2.6, .2], [5.7e5, 3.8, .4], [6e5, 1.8, .3], [6.3e5, 2.9, .45],
  [6.6e5, 4.0, .35], [7e5, 1.2, .15], [7.4e5, 2.4, .4], [7.8e5, 3.5, .3], [8.2e5, 1.6, .2],
  [8.6e5, 2.8, .4], [9e5, 4.1, .3], [9.5e5, 2.0, .15], [9.8e5, 3.3, .35], [4.4e5, 4.9, .5],
  [5.5e5, 4.9, .45], [6.8e5, 4.8, .4], [8.5e5, 4.2, .35], [4.6e5, 0.9, .2], [5.8e5, 0.8, .1],
  [7.2e5, 1.0, .3], [8.8e5, 1.1, .15], [9.6e5, 0.6, .25], [6.2e5, 2.6, .1], [5.2e5, 1.9, .55],
  [7.5e5, 3.0, .5], [9.2e5, 3.6, .4], [8e5, 3.9, .35], [9.9e5, 1.25, .1],
  [1.02e6, 2.4, .25], [1.06e6, 3.4, .4], [1.1e6, 1.5, .1], [1.15e6, 2.9, .4], [1.2e6, 1.0, .15],
  [1.27e6, 2.0, .35], [1.33e6, 2.7, .3], [1.4e6, 1.3, .1], [1.48e6, 2.3, .3], [1.55e6, 1.7, .35],
  [1.62e6, 2.9, .25], [1.7e6, 3.2, .4], [1.78e6, 1.2, .2], [1.85e6, 2.2, .15], [1.95e6, 1.8, .3],
  [2.05e6, 2.6, .25], [2.15e6, 1.4, .15], [2.25e6, 2.0, .25], [2.4e6, 1.1, .1], [1.08e6, 0.6, .2],
  [1.3e6, 0.5, .1], [1.5e6, 0.8, .35], [1.7e6, 0.45, .15], [2e6, 0.7, .3], [1.25e6, 3.9, .35],
  [1.6e6, 2.5, .5], [1.9e6, 2.8, .15], [2.3e6, 2.3, .2],
]

const TAIL: Pt[] = [
  [2.6e6, 1.6, .15], [2.8e6, 2.2, .25], [3e6, 1.2, .1], [3.2e6, 1.8, .2], [3.5e6, 0.9, .3],
  [3.8e6, 1.5, .15], [4.1e6, 1.1, .35], [4.5e6, 1.8, .1], [4.8e6, 1.5, .2], [5.2e6, 1.1, .45],
  [5.5e6, 0.9, .4], [6e6, 1.3, .25], [7e6, 1.0, .35], [8.1e6, 1.39, .3], [4.4e6, 0.45, .15],
  [3.6e6, 0.45, .1], [2.7e6, 0.7, .2], [9.8e6, 0.35, .15], [2.9e6, 1.6, .05], [3.4e6, 2.3, .2],
  [4.2e6, 1.7, .1],
]

const SERIES: { name: string; points: Pt[]; opacity: number; scale: number }[] = [
  { name: "left", points: LEFT_DOTS, opacity: 0.5, scale: 1 },
  { name: "upper", points: UPPER, opacity: 0.45, scale: 1 },
  { name: "top", points: TOP_ROW, opacity: 0.5, scale: 1.1 },
  { name: "low", points: LOW_BAND, opacity: 0.5, scale: 1 },
  { name: "coreLeft", points: CORE_LEFT, opacity: 0.72, scale: 1.6 },
  { name: "coreFill", points: CORE_FILL, opacity: 0.72, scale: 1.6 },
  { name: "coreDense", points: CORE_DENSE, opacity: 0.72, scale: 1.5 },
  { name: "coreMid", points: CORE_MID, opacity: 0.66, scale: 1.3 },
  { name: "coreBig", points: CORE_BIG, opacity: 0.6, scale: 1.15 },
  { name: "coreRight", points: CORE_RIGHT, opacity: 0.6, scale: 1.1 },
  { name: "tail", points: TAIL, opacity: 0.5, scale: 1 },
]

const VIRIDIS = ["#440154", "#482475", "#414487", "#355f8d", "#2a788e", "#21918c", "#22a884", "#44bf70", "#7ad151", "#bddf26", "#fde725"]
const CURVE_COLORS = ["#34477a", "#2f5583", "#3a3f75", "#2d5e86", "#3b3a70"]
const TEXT = "#263238"
const FRAME = "#b3bec5"
const GRID = "#e8edf0"
const FONT = "'DejaVu Sans', sans-serif"

const W = 2440
const H = 2110
const PLOT = { left: 230, top: 73, right: 2424, bottom: 1936 }

function hexRgb(h: string) {
  return [1, 3, 5].map((i) => parseInt(h.slice(i, i + 2), 16))
}

function viridis(t: number) {
  const s = Math.max(0, Math.min(1, t)) * (VIRIDIS.length - 1)
  const i = Math.min(VIRIDIS.length - 2, Math.floor(s))
  const f = s - i
  const a = hexRgb(VIRIDIS[i])
  const b = hexRgb(VIRIDIS[i + 1])
  const c = a.map((v, k) => Math.round(v + (b[k] - v) * f))
  return `rgb(${c[0]},${c[1]},${c[2]})`
}

// marker area grows with sqrt of the library count
function radius(views: number, pct: number) {
  return 2.58 * Math.pow((views * pct) / 100 + 1, 0.25)
}

const toRows = (pts: Pt[]) => pts.map(([v, p, c]) => ({ v, p, c }))

function curveRows(lib: number, from: number, to: number) {
  return CURVE_VIEWS.filter((v) => v >= from && v <= to).map((v) => ({ v, p: (lib / v) * 100 }))
}

function curveColor(lib: number) {
  if (lib === 0) return "#440154"
  if (lib === 1) return "#4d2c5e"
  if (lib === 2) return "#3a3d72"
  return CURVE_COLORS[lib % CURVE_COLORS.length]
}

const bubble = (opacity: number, scale: number) => (props: any) => {
  const { cx, cy, payload } = props
  if (cx == null || cy == null || !payload) return <g />
  return (
    <circle
      cx={cx}
      cy={cy}
      r={radius(payload.v, payload.p) * scale}
      fill={viridis(payload.c)}
      fillOpacity={opacity}
    />
  )
}

const noMarker = () => <g />

function LogTick(props: any) {
  const { x, payload } = props
  const exp = Math.round(Math.log10(payload.value))
  return (
    <text x={x} y={2016} textAnchor="middle" fill={TEXT} fontSize={48} fontFamily={FONT}>
      10<tspan dy={-14} fontSize={33}>{exp}</tspan>
    </text>
  )
}

function PctTick(props: any) {
  const { y, payload } = props
  return (
    <text x={PLOT.left - 40} y={y} dy="0.36em" textAnchor="end" fill={TEXT} fontSize={48} fontFamily={FONT}>
      {`${payload.value}%`}
    </text>
  )
}

const CB_DATA = [{ k: "share", v: 1 }]
const CB_LEFT = 2563
const CB_BAR = 93
const CB_AXIS = 260

export default function App() {
  return (
    <div style={{ position: "relative", width: 2855, height: H, background: "#fff", fontFamily: FONT }}>
      <div style={{ position: "absolute", left: 0, top: 0 }}>
        <ScatterChart
          width={W}
          height={H}
          margin={{ top: PLOT.top, right: W - PLOT.right, bottom: H - PLOT.bottom - 120, left: PLOT.left - 120 }}
        >
          <CartesianGrid stroke={GRID} strokeWidth={2.5} />
          <XAxis
            dataKey="v"
            type="number"
            scale="log"
            domain={X_DOMAIN}
            allowDataOverflow
            ticks={X_TICKS}
            tick={<LogTick />}
            tickLine={false}
            axisLine={false}
            height={120}
          />
          <YAxis
            dataKey="p"
            type="number"
            domain={Y_DOMAIN}
            allowDataOverflow
            ticks={Y_TICKS}
            tick={<PctTick />}
            tickLine={false}
            axisLine={false}
            width={120}
          />
          {CURVE_SPANS.map(([lib, from, to]) => (
            <Scatter
              key={`lib${lib}`}
              data={curveRows(lib, from, to)}
              isAnimationActive={false}
              fill={curveColor(lib)}
              line={{
                stroke: curveColor(lib),
                strokeWidth: lib === 0 ? 6 : 1.3 * radius(100, lib),
                strokeOpacity: lib === 0 ? 1 : 0.85,
                strokeLinecap: "round",
              }}
              lineJointType="monotoneX"
              shape={noMarker}
            />
          ))}
          {SERIES.map((s) => (
            <Scatter
              key={s.name}
              data={toRows(s.points)}
              isAnimationActive={false}
              shape={bubble(s.opacity, s.scale)}
            />
          ))}
        </ScatterChart>
      </div>

      <div style={{ position: "absolute", left: CB_LEFT, top: 0 }}>
        <BarChart
          width={CB_BAR + CB_AXIS}
          height={H}
          data={CB_DATA}
          margin={{ top: PLOT.top, right: 0, bottom: H - 1937, left: 0 }}
          barCategoryGap={0}
        >
          <defs>
            <linearGradient id="cbGrad" x1="0" y1="1" x2="0" y2="0">
              {VIRIDIS.map((c, i) => (
                <stop key={c} offset={i / (VIRIDIS.length - 1)} stopColor={c} stopOpacity={0.45} />
              ))}
            </linearGradient>
          </defs>
          <XAxis dataKey="k" hide />
          <YAxis
            orientation="right"
            type="number"
            domain={[0, 1]}
            ticks={CB_TICKS}
            tickFormatter={(v: number) => v.toFixed(1)}
            tick={{ fill: TEXT, fontSize: 48, fontFamily: FONT }}
            tickSize={25}
            tickMargin={14}
            tickLine={{ stroke: TEXT, strokeWidth: 3 }}
            axisLine={false}
            width={CB_AXIS}
          />
          <Bar dataKey="v" fill="url(#cbGrad)" stroke={FRAME} strokeWidth={6} isAnimationActive={false} />
        </BarChart>
      </div>

      <svg width={2855} height={H} style={{ position: "absolute", left: 0, top: 0, pointerEvents: "none" }}>
        <rect
          x={PLOT.left}
          y={PLOT.top}
          width={PLOT.right - PLOT.left}
          height={PLOT.bottom - PLOT.top}
          fill="none"
          stroke={FRAME}
          strokeWidth={5}
        />
        <text x={1327} y={52} textAnchor="middle" fontSize={50} fontWeight="bold" fill="#212121" fontFamily={FONT}>
          Книги с высокой конверсией внимания
        </text>
        <text x={1327} y={2074} textAnchor="middle" fontSize={48} fill={TEXT} fontFamily={FONT}>
          Просмотры, логарифмическая шкала
        </text>
        <text transform="translate(57 1008) rotate(-90)" textAnchor="middle" fontSize={48} fill={TEXT} fontFamily={FONT}>
          В библиотеку / просмотры
        </text>
        <text transform="translate(2822 1007) rotate(-90)" textAnchor="middle" fontSize={48} fill={TEXT} fontFamily={FONT}>
          Прочитано / библиотека
        </text>
      </svg>
    </div>
  )
}
